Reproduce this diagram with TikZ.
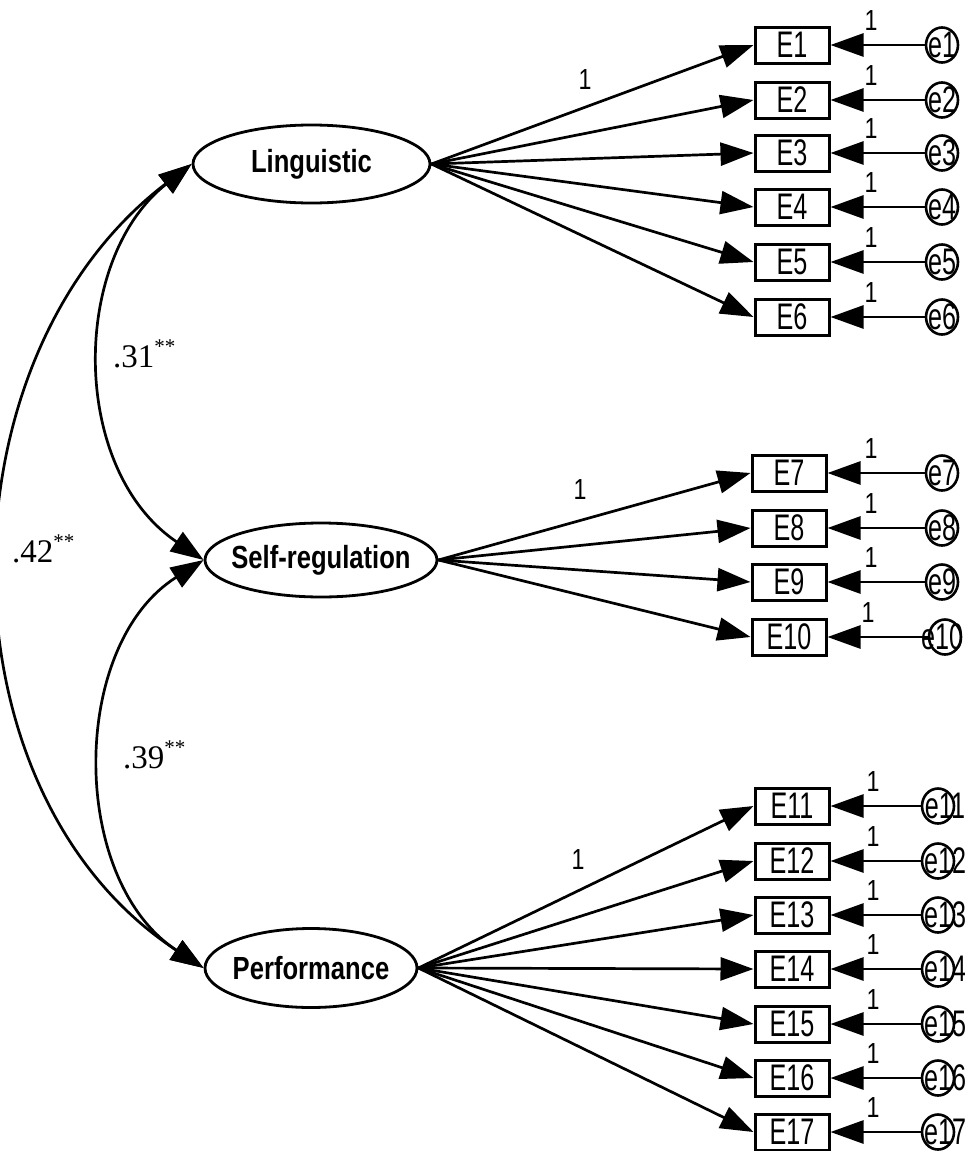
\documentclass[tikz,border=0pt]{standalone}
\usepackage{fontspec}
\usepackage{graphicx}
\setmainfont{Liberation Sans}
\newfontfamily\numserif{Liberation Serif}
\usetikzlibrary{arrows.meta,shapes.geometric}
\newcommand{\lattext}[1]{\makebox[0pt]{\scalebox{0.8}[1]{#1}}}
\newcommand{\condtext}[1]{\scalebox{0.68}[1]{#1}}
\newcommand{\sigstars}{\raisebox{14pt}{\fontsize{21}{21}\selectfont **}}
\tikzset{
  lat/.style={ellipse, draw, line width=2.8pt, inner sep=0pt,
    font=\fontsize{32}{34}\selectfont\bfseries},
  obs/.style={rectangle, draw, line width=3pt, minimum width=74pt,
    minimum height=36pt, inner sep=0pt, font=\fontsize{37}{39}\selectfont},
  err/.style={ellipse, draw, line width=2.6pt, minimum width=32pt,
    minimum height=35pt, inner sep=0pt},
  errlbl/.style={inner sep=0pt, font=\fontsize{37}{39}\selectfont},
  arr/.style={line width=2.7pt, -{Triangle[length=33pt,width=23pt]}},
  cov/.style={line width=2.7pt, {Triangle[length=33pt,width=23pt]}-{Triangle[length=33pt,width=23pt]}},
  onelbl/.style={inner sep=0pt, font=\fontsize{29}{31}\selectfont},
  covlbl/.style={inner sep=0pt, anchor=base west, font=\numserif\fontsize{33}{35}\selectfont},
}
\begin{document}
\begin{tikzpicture}[x=1pt,y=-1pt]
\useasboundingbox (0,0) rectangle (965,1151);
\clip (0,0) rectangle (965,1151);

% latent variables
\node[lat, minimum width=237pt, minimum height=78pt] (L) at (311.5,164) {\lattext{Linguistic}};
\node[lat, minimum width=232pt, minimum height=74pt] (S) at (321,560) {\lattext{Self-regulation}};
\node[lat, minimum width=212pt, minimum height=79pt] (P) at (311,968) {\lattext{Performance}};

% observed variables and errors
\foreach \i/\x/\y in {1/792/45,2/792/100,3/792/153,4/792/207,5/792/262,6/792/317,
                      7/789/473,8/789/528,9/789/582,10/789/637,
                      11/792/806,12/792/861,13/792/915,14/792/969,15/792/1024,16/792/1078,17/792/1132}{
  \node[obs] (E\i) at (\x,\y) {\condtext{E\i}};
}
\foreach \i/\y in {1/45,2/100,3/153,4/207,5/262,6/317,7/473,8/528,9/582}{
  \node[err, label={[errlbl]center:\condtext{e\i}}] (e\i) at (942,\y) {};
  \draw[arr] (e\i.west) -- (E\i.east);
  \node[onelbl] (o\i) at (871,\y-24) {\scalebox{0.8}[1]{1}};
}
\node[err, label={[errlbl,xshift=-3pt]center:\condtext{e10}}] (e10) at (945,637) {};
\draw[arr] (e10.west) -- (E10.east);
\node[onelbl] (o10) at (868,613) {\scalebox{0.8}[1]{1}};
\foreach \i/\y in {11/806,12/861,13/915,14/969,15/1024,16/1078,17/1132}{
  \node[err, label={[errlbl,xshift=7pt]center:\condtext{e\i}}] (e\i) at (938,\y) {};
  \draw[arr] (e\i.west) -- (E\i.east);
  \node[onelbl] (o\i) at (873,\y-24) {\scalebox{0.8}[1]{1}};
}

% loadings
\foreach \i in {1,...,6}{ \draw[arr] (L.east) -- (E\i.west); }
\foreach \i in {7,...,10}{ \draw[arr] (S.east) -- (E\i.west); }
\foreach \i in {11,...,17}{ \draw[arr] (P.east) -- (E\i.west); }
\node[onelbl] (l1) at (585,80) {\scalebox{0.8}[1]{1}};
\node[onelbl] (l7) at (580,490) {\scalebox{0.8}[1]{1}};
\node[onelbl] (l11) at (578,860) {\scalebox{0.8}[1]{1}};

% covariances
\draw[cov] (L.west) .. controls (70,260) and (70,470) .. (S.west);
\draw[cov] (S.west) .. controls (69,645) and (69,880) .. (P.west);
\draw[cov] (L.west) .. controls (-64,359) and (-64,793) .. (P.west);

\node[covlbl] (c31) at (113,367) {.31\sigstars};
\node[covlbl] (c42) at (12,562) {.42\sigstars};
\node[covlbl] (c39) at (123,768) {.39\sigstars};
\end{tikzpicture}
\end{document}
